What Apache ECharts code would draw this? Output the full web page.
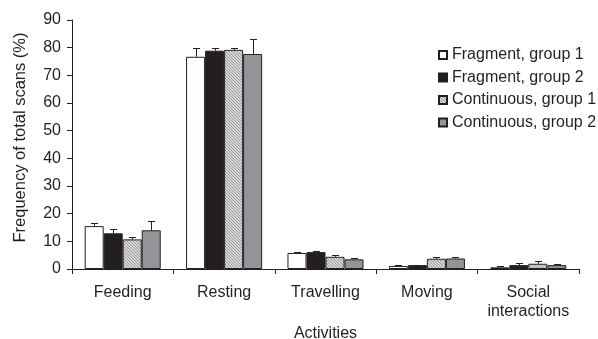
<!DOCTYPE html>
<html><head><meta charset="utf-8">
<script src="https://cdn.jsdelivr.net/npm/echarts@6/dist/echarts.min.js"></script>
<style>html,body{margin:0;padding:0;background:#fff}#c{width:598px;height:339px}</style>
</head><body><div id="c"></div>
<script>
var categories = ['Feeding', 'Resting', 'Travelling', 'Moving', 'Social\ninteractions'];
var seriesNames = ['Fragment, group 1', 'Fragment, group 2', 'Continuous, group 1', 'Continuous, group 2'];
var fragG1 = [15.5, 76.7, 5.8, 1.1, 0.6];
var fragG2 = [12.9, 78.9, 6.1, 1.4, 1.4];
var contG1 = [10.7, 79.2, 4.4, 3.7, 1.9];
var contG2 = [14.0, 77.7, 3.5, 3.8, 1.4];
var fragG1Err = [16.5, 79.8, 6.0, 1.4, 1.1];
var fragG2Err = [14.6, 79.8, 6.5, 1.5, 2.2];
var contG1Err = [11.5, 80.0, 5.2, 4.4, 2.8];
var contG2Err = [17.3, 83.1, 4.1, 4.4, 1.8];
var yTicks = [0, 10, 20, 30, 40, 50, 60, 70, 80, 90];

var means = [fragG1, fragG2, contG1, contG2];
var tops = [fragG1Err, fragG2Err, contG1Err, contG2Err];

// hatch pattern
var pc = document.createElement('canvas');
pc.width = 3; pc.height = 3;
var pctx = pc.getContext('2d');
pctx.fillStyle = '#d6d6d6';
pctx.fillRect(0, 0, 3, 3);
pctx.fillStyle = '#9a9a9a';
pctx.fillRect(0, 0, 1, 1);
pctx.fillRect(1, 1, 1, 1);
pctx.fillRect(2, 2, 1, 1);

var fills = ['#ffffff', '#231f20', {image: pc, repeat: 'repeat'}, '#939598'];
var font = 'Arial, "Liberation Sans", sans-serif';
var txt = '#231f20';
var GAP = 0.25;

var series = [];
for (var i = 0; i < 4; i++) {
  series.push({
    name: seriesNames[i], type: 'bar', data: means[i],
    barGap: '0%', barCategoryGap: (GAP * 100) + '%',
    itemStyle: {color: fills[i], borderColor: '#231f20', borderWidth: 1},
    emphasis: {disabled: true}, z: 2
  });
}
var errData = [];
for (var g = 0; g < 4; g++) for (var c = 0; c < categories.length; c++) errData.push([c, g, tops[g][c], means[g][c]]);
series.push({
  type: 'custom', data: errData, z: 3, silent: true,
  encode: {x: 0, y: 2},
  renderItem: function (params, api) {
    var c = api.value(0), g = api.value(1), top = api.value(2), m = api.value(3);
    var catW = api.size([1, 0])[0];
    var bw = catW * (1 - GAP) / 4;
    var x = Math.round(api.coord([c, 0])[0] + (g - 1.5) * bw) + 0.5;
    var y1 = api.coord([c, m])[1];
    var y2 = Math.round(api.coord([c, top])[1]) + 0.5;
    var st = {stroke: '#231f20', lineWidth: 1};
    return {type: 'group', children: [
      {type: 'line', shape: {x1: x, y1: y1, x2: x, y2: y2}, style: st},
      {type: 'line', shape: {x1: x - 3.5, y1: y2, x2: x + 3.5, y2: y2}, style: st}
    ]};
  }
});

var chart = echarts.init(document.getElementById('c'));
chart.setOption({
  animation: false,
  backgroundColor: '#fff',
  textStyle: {fontFamily: font, color: txt},
  grid: {left: 72, right: 19, top: 20, bottom: 70, outerBoundsMode: 'none', containLabel: false},
  legend: {
    data: seriesNames, orient: 'vertical', left: 433, top: 42,
    itemWidth: 8, itemHeight: 8, itemGap: 6.5, icon: 'rect',
    textStyle: {fontSize: 16, color: txt, fontFamily: font},
    selectedMode: false
  },
  xAxis: {
    type: 'category', data: categories,
    name: 'Activities', nameLocation: 'middle', nameGap: 55,
    nameTextStyle: {fontSize: 16, color: txt},
    axisLine: {lineStyle: {color: '#231f20', width: 1}},
    axisTick: {show: true, length: 5, alignWithLabel: false, lineStyle: {color: '#231f20'}},
    axisLabel: {interval: 0, fontSize: 16, color: txt, margin: 14, lineHeight: 19}
  },
  yAxis: {
    type: 'value', min: 0, max: 90, interval: 10,
    name: 'Frequency of total scans (%)', nameLocation: 'middle', nameGap: 43,
    nameTextStyle: {fontSize: 16.5, color: txt, padding: [0, 0, 0, 14]},
    axisLine: {show: true, lineStyle: {color: '#231f20', width: 1}},
    axisTick: {show: true, length: 5, lineStyle: {color: '#231f20'}},
    splitLine: {show: false},
    axisLabel: {fontSize: 16, color: txt, margin: 11,
      formatter: function (v) { return yTicks.indexOf(v) >= 0 ? String(v) : ''; }}
  },
  series: series
});
</script></body></html>
